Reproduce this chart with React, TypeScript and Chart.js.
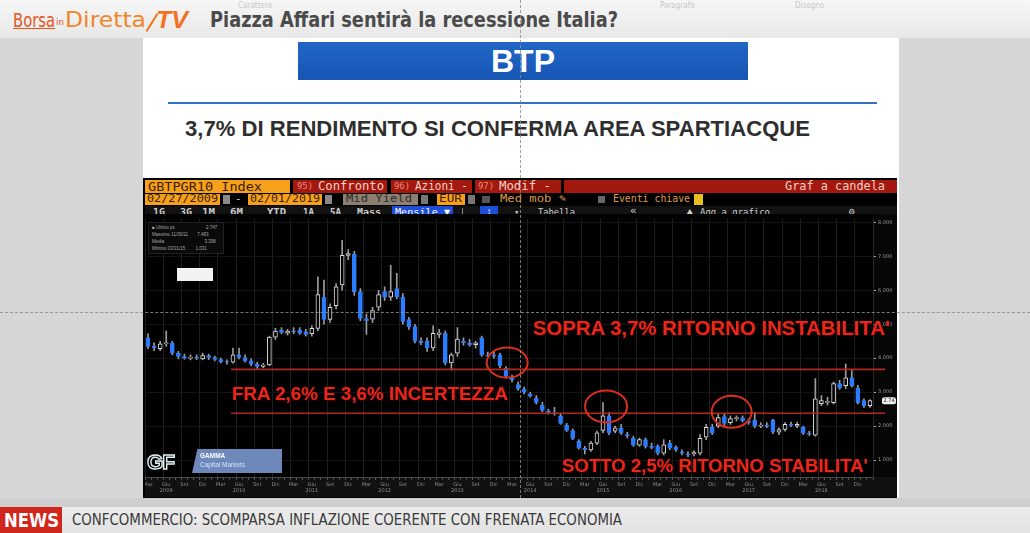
import React, { useEffect, useLayoutEffect, useRef } from "react";
import { Chart, registerables } from "chart.js";

Chart.register(...registerables);

// ---- data (monthly candles, BTP 10Y yield %, Mar 2009 -> Feb 2019) ----
const monthAbbr = ["Gen", "Feb", "Mar", "Apr", "Mag", "Giu", "Lug", "Ago", "Set", "Ott", "Nov", "Dic"];
const years = ["2009", "2010", "2011", "2012", "2013", "2014", "2015", "2016", "2017", "2018", "2019"];

const opens = [
  4.60, 4.35, 4.28, 4.42, 4.45, 4.15, 4.05, 4.00, 4.03, 3.98,
  4.08, 4.02, 3.96, 3.90, 3.88, 4.10, 4.02, 3.92, 3.82, 3.76,
  3.80, 4.62, 4.82, 4.74, 4.80, 4.82, 4.78, 4.72, 4.88, 5.80,
  5.14, 5.55, 6.16, 7.03, 7.06, 5.96, 5.17, 5.15, 5.50, 5.96,
  5.80, 6.05, 5.80, 5.14, 4.93, 4.50, 4.50, 4.30, 4.70, 4.73,
  3.86, 4.15, 4.50, 4.45, 4.40, 4.60, 4.10, 4.10, 4.10, 3.70,
  3.45, 3.22, 3.08, 2.95, 2.82, 2.62, 2.45, 2.40, 2.30, 2.02,
  1.87, 1.55, 1.35, 1.30, 1.50, 1.87, 2.30, 1.85, 1.95, 1.75,
  1.64, 1.44, 1.60, 1.40, 1.40, 1.20, 1.50, 1.38, 1.24, 1.18,
  1.18, 1.20, 1.67, 1.96, 2.00, 2.28, 2.10, 2.22, 2.24, 2.15,
  2.17, 2.00, 2.03, 2.17, 1.82, 1.90, 2.05, 2.00, 1.96, 1.79,
  1.73, 2.66, 2.70, 2.69, 3.25, 3.19, 3.42, 3.13, 2.75, 2.60,
];
const highs = [
  4.72, 4.45, 4.50, 4.80, 4.50, 4.20, 4.12, 4.10, 4.10, 4.15,
  4.12, 4.06, 4.00, 3.95, 4.30, 4.30, 4.10, 3.98, 3.88, 3.85,
  4.65, 4.88, 4.90, 4.85, 4.90, 4.90, 4.85, 4.95, 6.40, 6.30,
  5.60, 6.20, 7.47, 7.20, 7.15, 6.05, 5.30, 5.50, 6.00, 6.10,
  6.74, 6.50, 5.90, 5.20, 5.00, 4.60, 4.60, 4.95, 4.85, 4.80,
  4.15, 4.90, 4.60, 4.55, 4.50, 4.65, 4.18, 4.20, 4.15, 3.75,
  3.50, 3.30, 3.15, 3.00, 2.90, 2.70, 2.50, 2.55, 2.38, 2.08,
  1.92, 1.60, 1.40, 1.55, 1.85, 2.69, 2.40, 2.00, 2.05, 1.82,
  1.70, 1.65, 1.65, 1.50, 1.45, 1.60, 1.58, 1.42, 1.30, 1.25,
  1.28, 1.75, 2.05, 2.05, 2.35, 2.35, 2.30, 2.30, 2.30, 2.22,
  2.40, 2.10, 2.10, 2.20, 1.95, 2.10, 2.12, 2.12, 2.00, 1.85,
  3.40, 2.90, 2.85, 3.30, 3.35, 3.83, 3.65, 3.20, 2.80, 2.78,
];
const lows = [
  4.28, 4.22, 4.22, 4.35, 4.10, 3.98, 3.97, 3.95, 3.96, 3.95,
  3.96, 3.92, 3.86, 3.82, 3.85, 3.98, 3.88, 3.78, 3.70, 3.72,
  3.78, 4.55, 4.72, 4.68, 4.72, 4.70, 4.65, 4.65, 4.80, 5.00,
  5.05, 5.45, 6.00, 6.90, 5.85, 5.10, 4.70, 5.05, 5.40, 5.70,
  5.70, 5.75, 5.00, 4.85, 4.45, 4.40, 4.20, 4.22, 4.60, 3.80,
  3.65, 4.05, 4.38, 4.35, 4.30, 4.05, 4.02, 4.00, 3.72, 3.42,
  3.30, 3.05, 2.95, 2.85, 2.65, 2.42, 2.35, 2.32, 2.05, 1.84,
  1.60, 1.32, 1.18, 1.25, 1.45, 1.80, 1.75, 1.80, 1.75, 1.65,
  1.40, 1.40, 1.35, 1.33, 1.15, 1.15, 1.30, 1.25, 1.15, 1.10,
  1.12, 1.15, 1.60, 1.75, 1.95, 2.00, 2.05, 2.15, 2.12, 2.05,
  1.95, 1.95, 1.95, 1.78, 1.75, 1.85, 1.98, 1.95, 1.75, 1.72,
  1.70, 2.60, 2.62, 2.65, 3.08, 3.10, 3.15, 2.65, 2.55, 2.55,
];
const closes = [
  4.35, 4.30, 4.42, 4.45, 4.15, 4.05, 4.00, 4.03, 4.00, 4.08,
  4.02, 3.96, 3.90, 3.88, 4.10, 4.02, 3.92, 3.82, 3.76, 3.80,
  4.62, 4.80, 4.76, 4.80, 4.78, 4.74, 4.70, 4.88, 5.87, 5.14,
  5.50, 6.10, 7.03, 7.08, 5.96, 5.17, 5.10, 5.40, 5.87, 5.80,
  5.96, 5.80, 5.08, 4.93, 4.50, 4.46, 4.30, 4.73, 4.75, 3.86,
  4.10, 4.56, 4.46, 4.40, 4.45, 4.10, 4.06, 4.06, 3.77, 3.47,
  3.36, 3.10, 3.00, 2.88, 2.70, 2.46, 2.40, 2.36, 2.08, 1.87,
  1.64, 1.35, 1.30, 1.50, 1.80, 2.30, 1.80, 1.95, 1.80, 1.71,
  1.44, 1.60, 1.40, 1.37, 1.20, 1.45, 1.35, 1.30, 1.20, 1.15,
  1.22, 1.64, 1.96, 1.80, 2.25, 2.08, 2.22, 2.25, 2.15, 2.11,
  2.00, 2.03, 1.99, 1.82, 1.90, 2.05, 2.02, 2.05, 1.79, 1.76,
  2.80, 2.75, 2.73, 3.25, 3.13, 3.42, 3.19, 2.69, 2.60, 2.75,
];

const yTickValues = [1, 2, 3, 4, 5, 6, 7, 8];
const lastValue = 2.747;
const redLevels = [3.67, 2.38];
const redLineStartIndex = 13.7;
const circleIndex = [59.2, 75.5, 96.2];
const circleValue = [3.87, 2.58, 2.42];

const START_MONTH = 2; // March

const categories: string[] = opens.map((_, i) => {
  const m = (START_MONTH + i) % 12;
  return `${monthAbbr[m]} ${years[Math.floor((START_MONTH + i) / 12)]}`;
});

const BLUE = "#2b7cff";

const overlayPlugin = {
  id: "overlay",
  beforeDraw(chart: any) {
    const { ctx, chartArea, width, height } = chart;
    ctx.save();
    ctx.fillStyle = "#000";
    ctx.fillRect(0, 0, width, height);
    ctx.fillStyle = "#111";
    ctx.fillRect(0, chartArea.bottom, width, height - chartArea.bottom);
    ctx.fillStyle = "#070707";
    ctx.fillRect(chartArea.right, 0, width - chartArea.right, chartArea.bottom);
    ctx.restore();
  },
  afterDatasetsDraw(chart: any) {
    const { ctx, chartArea, scales } = chart;
    const x = scales.x;
    const y = scales.y;
    ctx.save();
    ctx.strokeStyle = "#b3281e";
    ctx.lineWidth = 1.6;
    redLevels.forEach((lv) => {
      const py = y.getPixelForValue(lv);
      ctx.beginPath();
      ctx.moveTo(x.getPixelForValue(redLineStartIndex), py);
      ctx.lineTo(chartArea.right + 12, py);
      ctx.stroke();
    });
    const rads = [
      [20.5, 15],
      [21, 16],
      [20, 16],
    ];
    ctx.strokeStyle = "#d9301f";
    ctx.lineWidth = 2;
    circleIndex.forEach((ci, k) => {
      ctx.beginPath();
      ctx.ellipse(x.getPixelForValue(ci), y.getPixelForValue(circleValue[k]), rads[k][0], rads[k][1], 0, 0, Math.PI * 2);
      ctx.stroke();
    });
    const py = y.getPixelForValue(lastValue);
    const bx = chartArea.right + 9;
    ctx.fillStyle = "#eeeeee";
    ctx.beginPath();
    ctx.roundRect(bx, py - 3.5, 14, 7, 2);
    ctx.fill();
    ctx.fillStyle = "#222";
    ctx.font = "5px DejaVu Sans";
    ctx.textBaseline = "middle";
    ctx.fillText(lastValue.toFixed(3), bx + 1.5, py);
    ctx.restore();
  },
};

function CandleChart() {
  const ref = useRef<HTMLCanvasElement | null>(null);
  useEffect(() => {
    if (!ref.current) return;
    const chart = new Chart(ref.current, {
      type: "bar",
      data: {
        labels: categories,
        datasets: [
          {
            label: "wick",
            data: lows.map((l, i) => [l, highs[i]]) as any,
            backgroundColor: "#9d9d9d",
            borderWidth: 0,
            barThickness: 1,
            grouped: false,
            order: 2,
          } as any,
          {
            label: "body",
            data: opens.map((o, i) => [o, closes[i]]) as any,
            backgroundColor: opens.map((o, i) => (closes[i] < o ? BLUE : "#000")),
            borderColor: opens.map((o, i) => (closes[i] < o ? BLUE : "#dcdcdc")),
            borderWidth: 1,
            borderSkipped: false,
            barThickness: 4,
            grouped: false,
            order: 1,
          } as any,
        ],
      },
      options: {
        animation: false,
        responsive: false,
        maintainAspectRatio: false,
        layout: { padding: { top: 3, left: 0, right: 0, bottom: 0 } },
        plugins: { legend: { display: false }, tooltip: { enabled: false } },
        scales: {
          x: {
            type: "category",
            offset: true,
            grid: {
              color: (c: any) => ((START_MONTH + c.index) % 12 % 3 === 2 ? "#1e1e1e" : "rgba(0,0,0,0)"),
              tickColor: "#555",
              tickLength: 3,
            },
            border: { color: "#4a4a4a" },
            ticks: {
              autoSkip: false,
              maxRotation: 0,
              minRotation: 0,
              padding: 1,
              color: "#8d8d8d",
              font: { size: 5, family: "DejaVu Sans", lineHeight: 1.3 },
              callback: (_v: any, i: number) => {
                const m = (START_MONTH + i) % 12;
                if (m % 3 !== 2) return "";
                if (m === 5) return [monthAbbr[m], years[Math.floor((START_MONTH + i) / 12)]];
                return monthAbbr[m];
              },
            },
            afterFit: (s: any) => {
              s.height = 20;
              s.paddingLeft = 0;
              s.paddingRight = 0;
            },
          } as any,
          y: {
            position: "right",
            min: 0.5,
            max: 8.1,
            afterBuildTicks: (s: any) => {
              s.ticks = yTickValues.map((v) => ({ value: v }));
            },
            ticks: {
              color: "#9a9a9a",
              padding: 2,
              font: { size: 5, family: "DejaVu Sans" },
              callback: (v: any) => Number(v).toFixed(3),
            },
            grid: { color: "#141414", tickColor: "#aaaaaa", tickLength: 3 },
            border: { color: "#2a2a2a" },
            afterFit: (s: any) => {
              s.width = 24;
            },
          } as any,
        },
      },
      plugins: [overlayPlugin],
    });
    return () => chart.destroy();
  }, []);
  return (
    <canvas
      ref={ref}
      width={752}
      height={283}
      style={{ position: "absolute", left: 145, top: 214, width: 752, height: 283 }}
    />
  );
}

const abs = (l: number, t: number, w?: number, h?: number, extra: React.CSSProperties = {}): React.CSSProperties => ({
  position: "absolute",
  left: l,
  top: t,
  ...(w !== undefined ? { width: w } : {}),
  ...(h !== undefined ? { height: h } : {}),
  ...extra,
});

// Text stretched horizontally to a given width (from the reference)
function Fit({ l, t, w, style, children }: { l: number; t: number; w: number; style?: React.CSSProperties; children: React.ReactNode }) {
  const ref = useRef<HTMLDivElement | null>(null);
  useLayoutEffect(() => {
    const el = ref.current;
    if (!el) return;
    el.style.transform = "none";
    const cw = el.getBoundingClientRect().width;
    if (cw > 0) el.style.transform = `scaleX(${w / cw})`;
  }, [w]);
  return (
    <div ref={ref} style={{ position: "absolute", left: l, top: t, whiteSpace: "nowrap", transformOrigin: "0 0", ...style }}>
      {children}
    </div>
  );
}

const MONO = "'DejaVu Sans Mono', monospace";
const NARROW = "'DejaVu Sans Condensed', 'DejaVu Sans', sans-serif";
const SANS = "'Liberation Sans', Arial, sans-serif";
const ORANGE = "#f6a01c";
const BRED = "#a3180f";

const redText: React.CSSProperties = {
  color: "#e8271b",
  fontFamily: SANS,
  fontWeight: 700,
  lineHeight: 1,
  textShadow: "0 0 2px #4a0000, 1px 1px 1px #2a0000",
};

const bb = (size: number, color: string, lh = "12px"): React.CSSProperties => ({
  fontFamily: MONO,
  fontSize: size,
  color,
  lineHeight: lh,
});

export default function App() {
  return (
    <div style={{ position: "absolute", left: 0, top: 0, width: 1030, height: 533, overflow: "hidden", background: "#d6d6d6", fontFamily: SANS }}>
      {/* slide */}
      <div style={abs(143, 36, 756, 462, { background: "#ffffff" })} />
      {/* top header */}
      <div style={abs(0, 0, 1030, 38, { background: "linear-gradient(to bottom, #f6f6f6, #e8e8e8)" })} />
      <div style={abs(238, 1, undefined, undefined, { fontSize: 8, color: "#c8c8c8", fontFamily: NARROW })}>Carattere</div>
      <div style={abs(660, 1, undefined, undefined, { fontSize: 8, color: "#c8c8c8", fontFamily: NARROW })}>Paragrafo</div>
      <div style={abs(795, 1, undefined, undefined, { fontSize: 8, color: "#c8c8c8", fontFamily: NARROW })}>Disegno</div>
      {/* logo */}
      <Fit l={13} t={9} w={42} style={{ fontFamily: NARROW, fontSize: 19, color: "#e2561d", textDecoration: "underline", lineHeight: "22px" }}>Borsa</Fit>
      <Fit l={56} t={18} w={8} style={{ fontFamily: NARROW, fontSize: 8, color: "#e2561d", lineHeight: "10px" }}>in</Fit>
      <Fit l={65} t={9} w={81} style={{ fontFamily: NARROW, fontSize: 21, color: "#f0862a", lineHeight: "22px" }}>Diretta</Fit>
      <div style={abs(151, 12, 2, 21, { background: "#f07a22", transform: "rotate(32deg)" })} />
      <Fit l={156} t={7} w={32} style={{ fontFamily: SANS, fontSize: 24, fontWeight: 700, fontStyle: "italic", color: "#f2731f", lineHeight: "26px" }}>TV</Fit>
      <Fit l={210} t={8} w={408} style={{ fontFamily: NARROW, fontSize: 21, fontWeight: 700, color: "#4b4b4b", lineHeight: "24px" }}>
        Piazza Affari sentirà la recessione Italia?
      </Fit>

      {/* BTP box */}
      <div style={abs(298, 42, 450, 38, { background: "linear-gradient(to bottom, #2166c6, #1656b4)", color: "#fff", fontSize: 32, fontWeight: 700, textAlign: "center", lineHeight: "38px", fontFamily: SANS })}>
        BTP
      </div>
      <div style={abs(168, 102, 709, 2, { background: "#3270c4" })} />
      <Fit l={185} t={119} w={625} style={{ fontSize: 21.5, fontWeight: 700, color: "#2e2e2e", lineHeight: 1 }}>
        3,7% DI RENDIMENTO SI CONFERMA AREA SPARTIACQUE
      </Fit>

      {/* Bloomberg panel */}
      <div style={abs(143, 178, 754, 320, { background: "#000" })} />
      {/* row 1 */}
      <div style={abs(145, 180, 145, 13, { background: ORANGE })} />
      <Fit l={148} t={180} w={114} style={bb(12.5, "#3b1d00", "13px")}>GBTPGR10 Index</Fit>
      <div style={abs(293, 180, 94, 13, { background: BRED })} />
      <Fit l={297} t={180} w={16} style={bb(9, "#f08a78", "13px")}>95)</Fit>
      <Fit l={318} t={180} w={66} style={bb(11.5, "#f6d2c6", "13px")}>Confronto</Fit>
      <div style={abs(391, 180, 81, 13, { background: BRED })} />
      <Fit l={394} t={180} w={16} style={bb(9, "#f08a78", "13px")}>96)</Fit>
      <Fit l={415} t={180} w={53} style={bb(11.5, "#f6d2c6", "13px")}>Azioni -</Fit>
      <div style={abs(475, 180, 86, 13, { background: BRED })} />
      <Fit l={478} t={180} w={16} style={bb(9, "#f08a78", "13px")}>97)</Fit>
      <Fit l={499} t={180} w={52} style={bb(11.5, "#f6d2c6", "13px")}>Modif -</Fit>
      <div style={abs(564, 180, 333, 13, { background: BRED })} />
      <Fit l={785} t={180} w={100} style={bb(11.5, "#f3d0c4", "13px")}>Graf a candela</Fit>
      {/* row 2 */}
      <div style={abs(145, 194, 75, 11, { background: ORANGE })} />
      <Fit l={147} t={193} w={71} style={bb(11, "#3b1d00")}>02/27/2009</Fit>
      <div style={abs(223, 195, 7, 9, { background: "#8a8a8a" })} />
      <div style={abs(235, 193, undefined, undefined, bb(11, "#cccccc"))}>-</div>
      <div style={abs(248, 194, 74, 11, { background: ORANGE })} />
      <Fit l={250} t={193} w={70} style={bb(11, "#3b1d00")}>02/01/2019</Fit>
      <div style={abs(325, 195, 7, 9, { background: "#8a8a8a" })} />
      <div style={abs(343, 194, 75, 11, { background: "#8c8072" })} />
      <Fit l={346} t={193} w={66} style={bb(11, "#2b2b2b")}>Mid Yield</Fit>
      <div style={abs(421, 195, 7, 9, { background: "#777" })} />
      <div style={abs(437, 194, 28, 11, { background: ORANGE })} />
      <Fit l={439} t={193} w={23} style={bb(11, "#3b1d00")}>EUR</Fit>
      <div style={abs(468, 195, 7, 9, { background: "#777" })} />
      <div style={abs(482, 196, 8, 7, { background: "#555" })} />
      <Fit l={500} t={193} w={66} style={bb(11, "#dc9c48")}>Med mob ✎</Fit>
      <div style={abs(598, 196, 7, 7, { background: "#666" })} />
      <Fit l={613} t={193} w={77} style={bb(11, "#dc9c48")}>Eventi chiave</Fit>
      <div style={abs(694, 194, 9, 11, { background: "#e6c01f" })} />
      {/* row 3 */}
      <div style={abs(145, 206, 752, 12, { background: "#121212" })} />
      {[
        ["1G", 153, 12],
        ["3G", 180, 12],
        ["1M", 202, 13],
        ["6M", 230, 13],
        ["YTD", 267, 19],
        ["1A", 303, 11],
        ["5A", 330, 11],
        ["Mass", 357, 24],
      ].map(([t, l, w]) => (
        <Fit key={t as string} l={l as number} t={206} w={w as number} style={{ ...bb(9.5, "#cdcdcd"), fontWeight: 700 }}>
          {t}
        </Fit>
      ))}
      <div style={abs(392, 206, 61, 11, { background: "#1f4fd8" })} />
      <Fit l={395} t={206} w={55} style={bb(9.5, "#ffffff", "11px")}>Mensile ▼</Fit>
      <div style={abs(462, 208, 12, 8, { borderLeft: "1px solid #888", borderBottom: "1px solid #888" })} />
      <div style={abs(480, 206, 18, 11, { background: "#1f4fd8", color: "#fff", fontSize: 8, lineHeight: "11px", textAlign: "center" })}>↕</div>
      <div style={abs(514, 206, undefined, undefined, bb(9, "#bbbbbb"))}>▾</div>
      <Fit l={538} t={206} w={37} style={bb(9.5, "#cdcdcd")}>Tabella</Fit>
      <div style={abs(630, 205, undefined, undefined, bb(11, "#cdcdcd"))}>«</div>
      <div style={abs(686, 206, undefined, undefined, bb(9, "#cdcdcd"))}>⛰</div>
      <Fit l={700} t={206} w={70} style={bb(9.5, "#cdcdcd")}>Agg a grafico</Fit>
      <div style={abs(849, 206, undefined, undefined, bb(10, "#cdcdcd"))}>⚙</div>
      <div style={abs(466, 217, undefined, undefined, { ...bb(4.5, "#6f6f6f", "6px"), fontFamily: SANS, whiteSpace: "nowrap" })}>
        • Track   ◦ Annotaz   ◦ Notizie   ◦ Zoom
      </div>

      <CandleChart />

      {/* legend box */}
      <div style={abs(148, 222, 76, 32, { background: "#0a0a0a", border: "1px solid #222", color: "#a8a8a8", fontSize: 4.5, fontFamily: SANS, lineHeight: "7px", padding: "1px 3px", boxSizing: "border-box", whiteSpace: "nowrap" })}>
        <div>■ Ultimo px <span style={{ marginLeft: 30 }}>2.747</span></div>
        <div>Massimo 11/30/11 <span style={{ marginLeft: 8 }}>7.483</span></div>
        <div>Media <span style={{ marginLeft: 39 }}>3.398</span></div>
        <div>Minimo 03/31/15 <span style={{ marginLeft: 9 }}>1.031</span></div>
      </div>
      <div style={abs(177, 268, 36, 13, { background: "#f2f2f2" })} />

      {/* Gamma logo */}
      <div style={abs(147, 450, 45, 23, { color: "transparent", WebkitTextStroke: "1.4px #dfeeee", fontSize: 21, fontWeight: 700, fontFamily: SANS, lineHeight: "23px", letterSpacing: -1 } as any)}>GF</div>
      <div style={abs(192, 449, 90, 24, { background: "#6d88b9", clipPath: "polygon(6% 0, 100% 0, 100% 100%, 0 100%)" })} />
      <div style={abs(200, 452, undefined, undefined, { color: "#fff", fontSize: 6.5, fontWeight: 700, fontFamily: SANS, lineHeight: "8px" })}>GAMMA</div>
      <div style={abs(200, 461, undefined, undefined, { color: "#d3e1fb", fontSize: 6.5, fontFamily: SANS, lineHeight: "8px" })}>Capital Markets</div>

      {/* annotations */}
      <Fit l={533} t={318.5} w={357} style={{ ...redText, fontSize: 19.5 }}>SOPRA 3,7% RITORNO INSTABILITA'</Fit>
      <Fit l={232} t={383.5} w={276} style={{ ...redText, fontSize: 19 }}>FRA 2,6% E 3,6% INCERTEZZA</Fit>
      <Fit l={562} t={456} w={306} style={{ ...redText, fontSize: 19 }}>SOTTO 2,5% RITORNO STABILITA'</Fit>

      {/* guides */}
      <div style={abs(520, 0, 0, 533, { borderLeft: "1px dashed rgba(140,140,140,0.85)" })} />
      <div style={abs(0, 312, 1030, 0, { borderTop: "1px dashed rgba(140,140,140,0.85)" })} />

      {/* news bar */}
      <div style={abs(0, 498, 1030, 9, { background: "#cfcfcf" })} />
      <div style={abs(0, 507, 1030, 26, { background: "linear-gradient(to bottom, #ececec, #e2e2e2)" })} />
      <div style={abs(0, 507, 62, 26, { background: "#d1261c" })} />
      <Fit l={4} t={507} w={55} style={{ color: "#fff", fontFamily: NARROW, fontWeight: 700, fontSize: 20, lineHeight: "26px" }}>NEWS</Fit>
      <Fit l={72} t={511} w={550} style={{ color: "#3a3a3a", fontFamily: NARROW, fontSize: 15.5, lineHeight: "18px" }}>
        CONFCOMMERCIO: SCOMPARSA INFLAZIONE COERENTE CON FRENATA ECONOMIA
      </Fit>
    </div>
  );
}
